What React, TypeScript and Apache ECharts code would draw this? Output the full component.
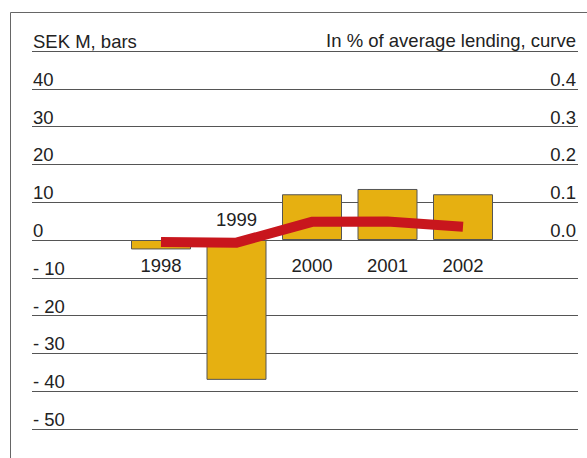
import { useEffect, useRef } from 'react';
import * as echarts from 'echarts';

// ---- data ----
const years = ['1998', '1999', '2000', '2001', '2002'];
const creditLossesSEKm = [-2.5, -37, 12.1, 13.5, 12.1];
const creditLossPct = [-0.005, -0.007, 0.048, 0.049, 0.035];
const yearsLabelledAbove = ['1999'];
const leftTitle = 'SEK M, bars';
const rightTitle = 'In % of average lending, curve';
const leftScale = { min: -50, max: 50, interval: 10 };
const rightScale = { min: -0.5, max: 0.5, interval: 0.1 };
const rightLabelRange = { from: 0, to: 0.4 };

const FONT = 'Liberation Sans, Arial, Helvetica, sans-serif';
const FS = 18.5;
const TEXT = '#222';
const GOLD = '#E6B011';
const RED = '#C8161D';
const GRIDLINE = '#555';

const hiddenAxisParts = {
  axisLine: { show: false },
  axisTick: { show: false },
  axisLabel: { show: false },
  splitLine: { show: false },
};

export default function App() {
  const ref = useRef<HTMLDivElement>(null);
  useEffect(() => {
    if (!ref.current) return;
    const chart = echarts.init(ref.current, null, { renderer: 'svg' });
    const top = 51;
    const bottom = 29;
    const plotHeight = 458 - top - bottom;
    // distance from the grid's bottom edge up to the value 0 of the left scale
    const zeroOffset =
      (plotHeight * (0 - leftScale.min)) / (leftScale.max - leftScale.min);
    const barData = creditLossesSEKm.map((v, i) =>
      yearsLabelledAbove.includes(years[i])
        ? {
            value: v,
            label: {
              show: true,
              position: 'top',
              distance: 11,
              formatter: years[i],
              fontFamily: FONT,
              fontSize: FS,
              color: TEXT,
            },
          }
        : v
    );
    chart.setOption({
      animation: false,
      textStyle: { fontFamily: FONT },
      grid: [
        { left: 32, right: 9, top, bottom, outerBoundsMode: 'none', containLabel: false },
        { left: 123.25, right: 86.25, top, bottom, outerBoundsMode: 'none', containLabel: false },
      ],
      graphic: [
        {
          type: 'polyline',
          shape: { points: [[10.5, 470], [10.5, 12.5], [600, 12.5]] },
          style: { stroke: '#666', lineWidth: 1, fill: 'none' },
          silent: true,
        },
      ],
      xAxis: [
        { type: 'value', gridIndex: 0, show: false, min: 0, max: 1 },
        {
          type: 'category',
          gridIndex: 1,
          position: 'bottom',
          offset: -zeroOffset,
          data: years,
          axisLine: { show: false, onZero: false },
          axisTick: { show: false },
          axisLabel: {
            interval: 0,
            margin: 16,
            fontFamily: FONT,
            fontSize: FS,
            color: TEXT,
            formatter: (v: string) => (yearsLabelledAbove.includes(v) ? '' : v),
          },
          splitLine: { show: false },
        },
      ],
      yAxis: [
        {
          type: 'value',
          gridIndex: 0,
          position: 'left',
          ...leftScale,
          name: leftTitle,
          nameLocation: 'end',
          nameGap: 0,
          nameTextStyle: {
            align: 'left',
            verticalAlign: 'bottom',
            fontFamily: FONT,
            fontSize: FS,
            color: TEXT,
            padding: [0, 0, 0, 1],
          },
          axisLine: { show: false },
          axisTick: { show: false },
          axisLabel: {
            inside: true,
            margin: 1,
            align: 'left',
            verticalAlign: 'bottom',
            fontFamily: FONT,
            fontSize: FS,
            color: TEXT,
            formatter: (v: number) =>
              v >= leftScale.max ? '' : v < 0 ? '- ' + Math.abs(v) : String(v),
          },
          splitLine: { show: true, lineStyle: { color: GRIDLINE, width: 1 } },
        },
        {
          type: 'value',
          gridIndex: 0,
          position: 'right',
          ...rightScale,
          name: rightTitle,
          nameLocation: 'end',
          nameGap: 1,
          nameTextStyle: {
            align: 'right',
            verticalAlign: 'bottom',
            fontFamily: FONT,
            fontSize: FS,
            color: TEXT,
            padding: [0, 2, 0, 0],
          },
          axisLine: { show: false },
          axisTick: { show: false },
          axisLabel: {
            inside: true,
            margin: 2,
            align: 'right',
            verticalAlign: 'bottom',
            fontFamily: FONT,
            fontSize: FS,
            color: TEXT,
            formatter: (v: number) =>
              v < rightLabelRange.from - 1e-9 || v > rightLabelRange.to + 1e-9 ? '' : v.toFixed(1),
          },
          splitLine: { show: false },
        },
        { type: 'value', gridIndex: 1, position: 'left', ...leftScale, ...hiddenAxisParts },
        { type: 'value', gridIndex: 1, position: 'right', ...rightScale, ...hiddenAxisParts },
      ],
      series: [
        {
          type: 'bar',
          name: 'Credit losses, SEK M',
          xAxisIndex: 1,
          yAxisIndex: 2,
          data: barData,
          barWidth: 60,
          itemStyle: { color: GOLD, borderColor: '#555', borderWidth: 1 },
          z: 2,
        },
        {
          type: 'line',
          name: 'In % of average lending',
          xAxisIndex: 1,
          yAxisIndex: 3,
          data: creditLossPct,
          symbol: 'none',
          showSymbol: false,
          lineStyle: { color: RED, width: 10, cap: 'butt', join: 'miter' },
          z: 3,
        },
      ],
    });
    return () => chart.dispose();
  }, []);
  return (
    <div
      ref={ref}
      style={{ position: 'fixed', left: 0, top: 0, width: 587, height: 458, background: '#fff' }}
    />
  );
}
